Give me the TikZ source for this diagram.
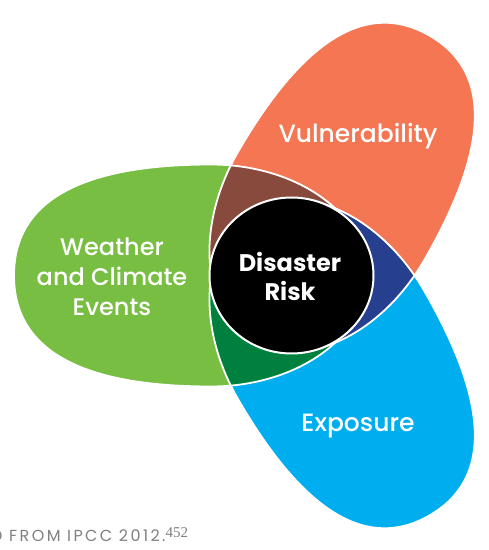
\documentclass[tikz,border=0pt]{standalone}
\usepackage{fontspec}
\setmainfont{Poppins}
\newfontfamily\medfont{Poppins Medium}
\newfontfamily\supfont{Liberation Serif}
\definecolor{cgreen}{RGB}{120,190,67}
\definecolor{corange}{RGB}{244,118,82}
\definecolor{cblue}{RGB}{0,174,239}
\definecolor{cbrown}{RGB}{137,74,62}
\definecolor{cdblue}{RGB}{38,64,143}
\definecolor{cdgreen}{RGB}{0,128,62}
\definecolor{cgray}{RGB}{128,128,128}
\def\petalpath{(80pt,111pt) .. controls (211pt,111pt) and (277pt,74pt) .. (277pt,0pt) .. controls (277pt,-74pt) and (211pt,-111pt) .. (80pt,-111pt) .. controls (-6pt,-111pt) and (-76pt,-61.3pt) .. (-76pt,0pt) .. controls (-76pt,61.3pt) and (-6pt,111pt) .. (80pt,111pt) -- cycle}
\tikzset{
  gpet/.style={shift={(291pt,274.5pt)},rotate=180},
  opet/.style={shift={(291pt,274.5pt)},rotate=60,yscale=0.97},
  bpet/.style={shift={(291pt,274.5pt)},rotate=-60,yscale=0.97},
  edge line/.style={draw=white,line width=1.8pt},
  label text/.style={text=white,inner sep=0pt,font=\medfont\fontsize{25}{30}\selectfont,align=center},
}
\begin{document}
\begin{tikzpicture}[x=1pt,y=1pt]
\useasboundingbox (0,0) rectangle (489,550);
% petals
\fill[cgreen,gpet] \petalpath;
\fill[corange,opet] \petalpath;
\fill[cblue,bpet] \petalpath;
% pairwise overlaps
\begin{scope}
  \clip[gpet] \petalpath;
  \fill[cbrown,opet] \petalpath;
  \fill[cdgreen,bpet] \petalpath;
\end{scope}
\begin{scope}
  \clip[opet] \petalpath;
  \fill[cdblue,bpet] \petalpath;
\end{scope}
% outlines
\path[edge line,gpet] \petalpath;
\path[edge line,opet] \petalpath;
\path[edge line,bpet] \petalpath;
% centre
\coordinate (O) at (291.5,274.5);
\fill[black] (O) ellipse[x radius=82pt,y radius=78pt];
\draw[white,line width=2pt] (O) ellipse[x radius=82pt,y radius=78pt];
% labels
\node[label text,anchor=base] (vul) at (358,407) {Vulnerability};
\node[label text,anchor=base] (exp) at (358,118) {Exposure};
\node[label text,font=\medfont\fontsize{24}{30}\selectfont] (wce) at (112,273) {Weather\\and Climate\\Events};
\node[label text,font=\fontsize{24}{29}\selectfont\bfseries] (dr) at (290,274) {Disaster\\Risk};
\node[anchor=base west,inner sep=0pt,text=cgray,font=\fontsize{16}{16}\selectfont\addfontfeature{LetterSpace=15}] (src) at (-9,9) {D FROM IPCC 2012.{\supfont\fontsize{15}{15}\selectfont\raisebox{4pt}{452}}};
\end{tikzpicture}
\end{document}
